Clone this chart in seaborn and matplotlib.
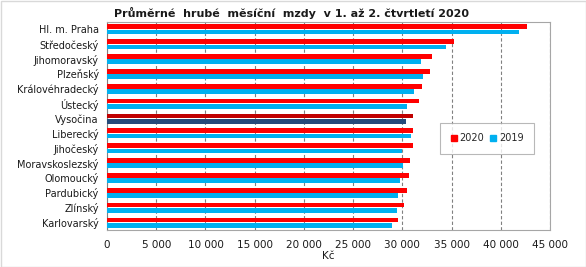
import matplotlib
matplotlib.use("Agg")
import matplotlib.pyplot as plt
import seaborn as sns
import pandas as pd
import numpy as np
from matplotlib.patches import Rectangle, Patch
from matplotlib.ticker import FuncFormatter, MultipleLocator

regions = ["Hl. m. Praha", "Středočeský", "Jihomoravský", "Plzeňský", "Královéhradecký",
           "Ústecký", "Vysočina", "Liberecký", "Jihočeský", "Moravskoslezský",
           "Olomoucký", "Pardubický", "Zlínský", "Karlovarský"]
wage_2020 = [42640, 35220, 32990, 32780, 31970, 31660, 31060, 31060, 31060, 30750,
             30650, 30450, 30140, 29540]
wage_2019 = [41820, 34410, 31870, 32070, 31160, 30450, 30350, 30850, 29940, 30040,
             29740, 29540, 29430, 28930]
years = ["2020", "2019"]
highlight = "Vysočina"

df = pd.DataFrame({
    "region": regions * 2,
    "year": [years[0]] * len(regions) + [years[1]] * len(regions),
    "wage": wage_2020 + wage_2019,
})

sns.set_style("white")
plt.rcParams["font.family"] = ["DejaVu Sans"]

fig = plt.figure(figsize=(5.86, 2.67), dpi=100)
ax = fig.add_axes([107/586, 1-230/267, 443/586, 208/267])

red, blue = "#FF0000", "#00B0F0"
dred, dblue = "#C00000", "#254A7A"
sns.barplot(data=df, y="region", x="wage", hue="year", hue_order=years,
            palette=[red, blue], orient="h", width=0.7, gap=0.1, saturation=1,
            ax=ax, legend=False, zorder=3)

hi = regions.index(highlight)
for p in ax.patches:
    yc = p.get_y() + p.get_height() / 2
    if abs(yc - hi) < 0.5:
        p.set_facecolor(dred if yc < hi else dblue)
    p.set_edgecolor("none")

ax.set_xlim(0, 45000)
ax.set_ylim(len(regions) - 0.5, -0.5)
ax.xaxis.set_major_locator(MultipleLocator(5000))
ax.xaxis.set_major_formatter(FuncFormatter(lambda v, _: f"{int(v):,}".replace(",", " ")))
ax.grid(axis="x", color="#808080", linestyle=(0, (3, 2)), linewidth=0.8, zorder=0)
ax.set_axisbelow(True)
ax.tick_params(axis="x", length=0, pad=7, labelsize=7.5, colors="#1a1a1a")
ax.tick_params(axis="y", which="major", length=0, pad=6, labelsize=7, colors="#1a1a1a")
ax.set_yticks(np.arange(-0.5, len(regions)), minor=True)
ax.tick_params(axis="y", which="minor", length=4, width=0.8, color="#808080", direction="out")
ax.set_ylabel("")
ax.set_xlabel("Kč", fontsize=7.5, labelpad=1, color="#1a1a1a")
for s in ax.spines.values():
    s.set_color("#A6A6A6")
    s.set_linewidth(0.8)
ax.spines["left"].set_color("#808080")

handles = [Patch(color=red, label=years[0]), Patch(color=blue, label=years[1])]
leg = ax.legend(handles=handles, loc="center", bbox_to_anchor=(0.858, 0.44), ncol=2,
                fontsize=7, frameon=True, fancybox=False, handlelength=0.6,
                handleheight=0.6, handletextpad=0.3, columnspacing=0.6,
                borderpad=1.1, borderaxespad=0)
leg.get_frame().set_edgecolor("#A6A6A6")
leg.get_frame().set_linewidth(0.8)

fig.text(292/586, 1-13/267, "Průměrné  hrubé  měsíční  mzdy  v 1. až 2. čtvrtletí 2020",
         ha="center", va="center", fontsize=8, fontweight="bold", color="#1a1a1a")
fig.patches.append(Rectangle((0.5/586, 0.5/267), 1-1/586, 1-1/267, transform=fig.transFigure,
                             fill=False, edgecolor="#D9D9D9", linewidth=1))

fig.savefig("out.png", dpi=100)
